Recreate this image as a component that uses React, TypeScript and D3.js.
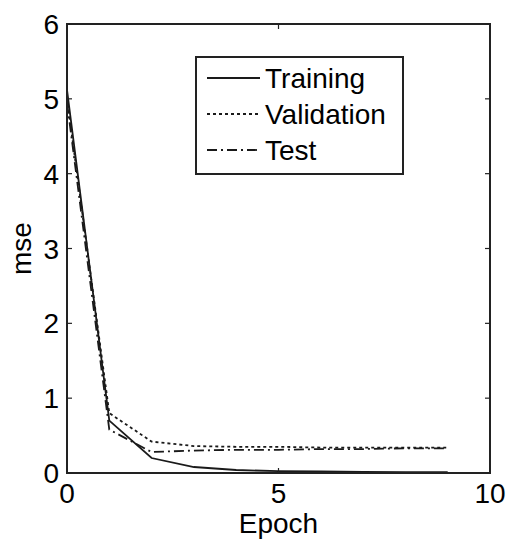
import React from 'react';
import * as d3 from 'd3';

const epochs = [0, 1, 2, 3, 4, 5, 6, 7, 8, 9];
const training = [5.12, 0.7, 0.2, 0.08, 0.04, 0.025, 0.02, 0.015, 0.01, 0.01];
const validation = [5.0, 0.8, 0.42, 0.36, 0.35, 0.35, 0.34, 0.34, 0.34, 0.34];
const test = [4.95, 0.58, 0.28, 0.3, 0.31, 0.31, 0.32, 0.32, 0.33, 0.33];

const xTicks = [0, 5, 10];
const yTicks = [0, 1, 2, 3, 4, 5, 6];

const seriesNames = ['Training', 'Validation', 'Test'];
const dashes = ['none', '3,3', '10,4,2,4'];

const W = 508, H = 541;
const margin = { top: 24, right: 18, bottom: 68, left: 67 };
const font = '"Liberation Sans", Arial, Helvetica, sans-serif';

export default function App() {
  const x = d3.scaleLinear().domain([0, 10]).range([margin.left, W - margin.right]);
  const y = d3.scaleLinear().domain([0, 6]).range([H - margin.bottom, margin.top]);

  const line = d3.line<number>()
    .x((_, i) => x(epochs[i]))
    .y(d => y(d));

  const allSeries = [training, validation, test];
  const x0 = x(0), x1 = x(10), y0 = y(0), y1 = y(6);
  const tick = 5;

  // legend box
  const lg = { x: 196, y: 57, w: 207, h: 117 };
  const rowY = (i: number) => lg.y + 21 + i * 36;

  return (
    <svg width={W} height={H} style={{ position: 'absolute', left: 0, top: 0, background: '#fff' }}
      fontFamily={font}>
      <rect x={0} y={0} width={W} height={H} fill="#fff" />

      {allSeries.map((s, i) => (
        <path key={i} d={line(s) || ''} fill="none" stroke="#1a1a1a" strokeWidth={1.8}
          strokeDasharray={dashes[i]} />
      ))}

      {/* frame */}
      <rect x={x0} y={y1} width={x1 - x0} height={y0 - y1} fill="none" stroke="#222" strokeWidth={2} />

      {/* x ticks */}
      {xTicks.map(t => (
        <g key={'x' + t}>
          <line x1={x(t)} x2={x(t)} y1={y0} y2={y0 - tick} stroke="#222" strokeWidth={1.2} />
          <line x1={x(t)} x2={x(t)} y1={y1} y2={y1 + tick} stroke="#222" strokeWidth={1.2} />
          <text x={x(t)} y={y0 + 30} textAnchor="middle" fontSize={28} fill="#000">{t}</text>
        </g>
      ))}

      {/* y ticks */}
      {yTicks.map(t => (
        <g key={'y' + t}>
          <line x1={x0} x2={x0 + tick} y1={y(t)} y2={y(t)} stroke="#222" strokeWidth={1.2} />
          <line x1={x1} x2={x1 - tick} y1={y(t)} y2={y(t)} stroke="#222" strokeWidth={1.2} />
          <text x={x0 - 8} y={y(t)} dy="0.36em" textAnchor="end" fontSize={28} fill="#000">{t}</text>
        </g>
      ))}

      <text x={(x0 + x1) / 2} y={533} textAnchor="middle" fontSize={28} fill="#000">Epoch</text>
      <text transform={`translate(31,${(y0 + y1) / 2}) rotate(-90)`} textAnchor="middle" fontSize={28} fill="#000">mse</text>

      {/* legend */}
      <rect x={lg.x} y={lg.y} width={lg.w} height={lg.h} fill="#fff" stroke="#222" strokeWidth={2} />
      {seriesNames.map((n, i) => (
        <g key={n}>
          <line x1={207} x2={260} y1={rowY(i)} y2={rowY(i)} stroke="#1a1a1a" strokeWidth={1.8}
            strokeDasharray={dashes[i]} />
          <text x={265} y={rowY(i)} dy="0.36em" fontSize={28} fill="#000">{n}</text>
        </g>
      ))}
    </svg>
  );
}
